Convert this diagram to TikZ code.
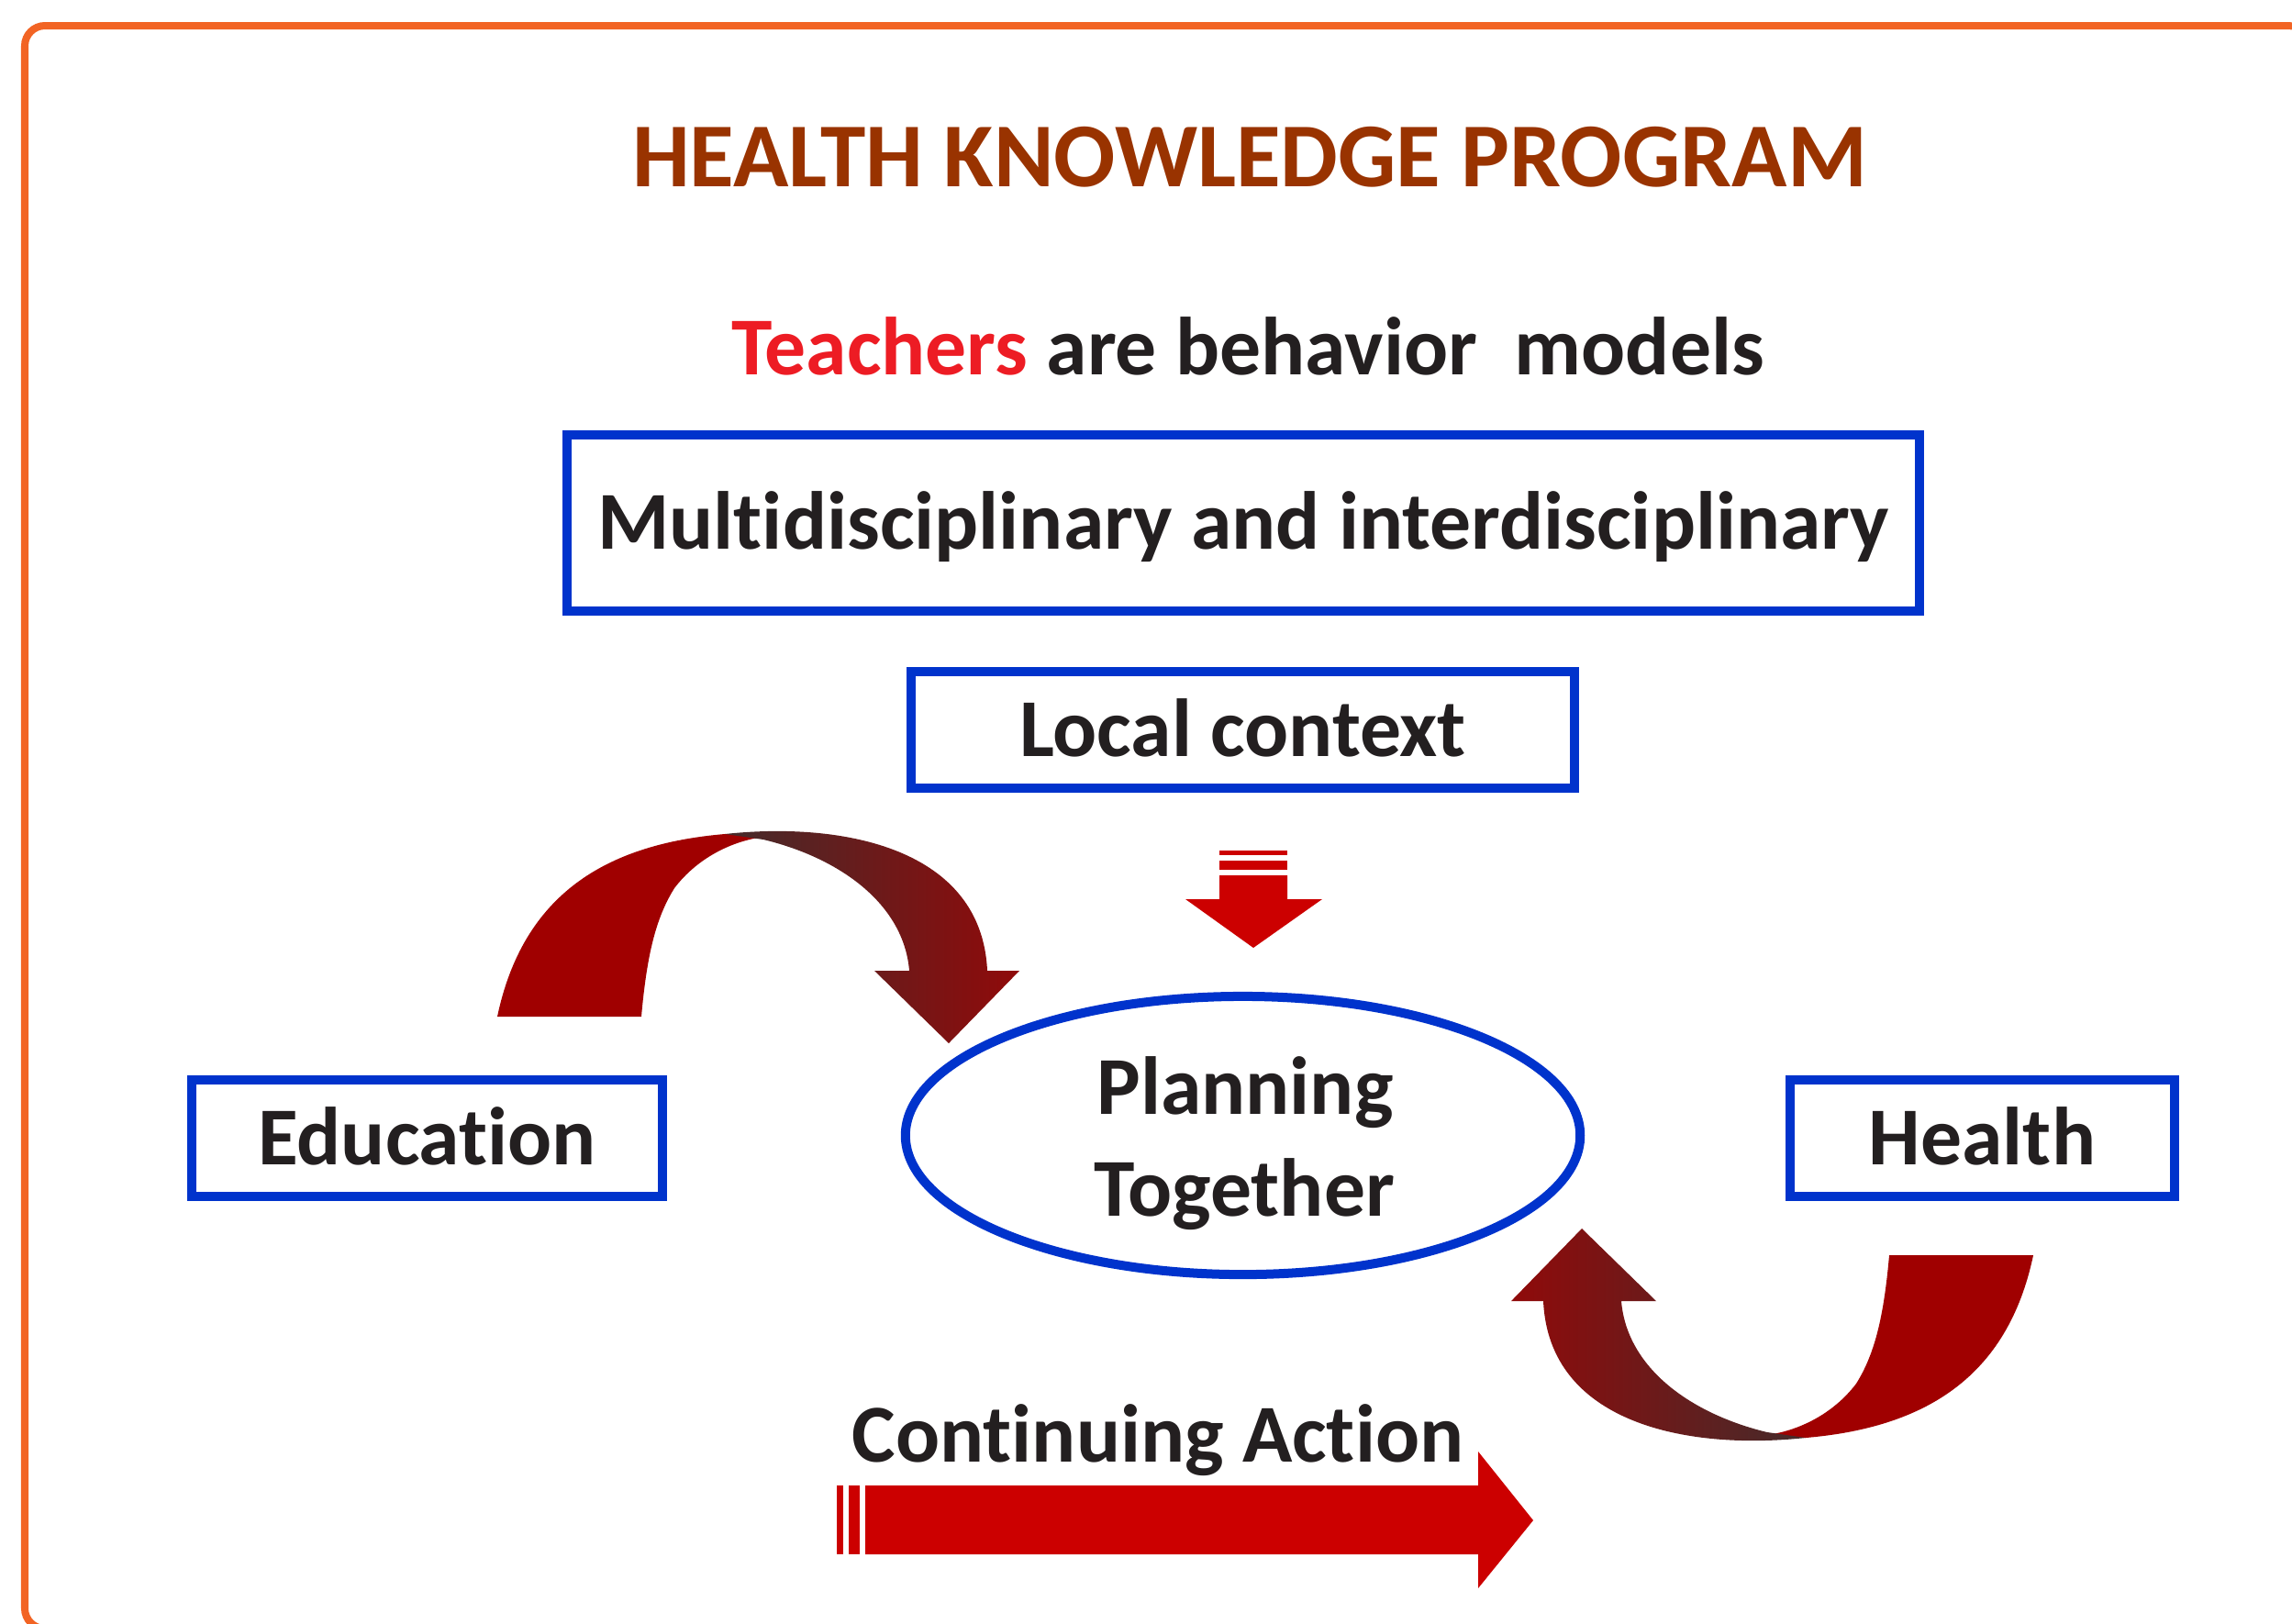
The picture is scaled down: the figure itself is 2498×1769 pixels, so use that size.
\documentclass[tikz,border=0pt]{standalone}
\usepackage{fontspec}
\setmainfont{Carlito}[Ligatures=NoCommon]
\usetikzlibrary{shapes.geometric}

\definecolor{frameorange}{HTML}{F26424}
\definecolor{titlebrown}{HTML}{993300}
\definecolor{teachred}{HTML}{ED1C24}
\definecolor{inkdark}{HTML}{231F20}
\definecolor{boxblue}{HTML}{0033CC}
\definecolor{arrowred}{HTML}{CC0000}
\definecolor{ribbonred}{HTML}{A00000}
\definecolor{ribbondark}{HTML}{452B2B}
\definecolor{ribbonend}{HTML}{900A0A}

% Twisted ribbon arrow: a solid band rising from its base, then a shaded band
% curling over and ending in an arrow head. #1/#2 = left/right shading colours.
\newcommand\ribbonarrow[2]{%
  \fill[ribbonred]
    (542,1108) .. controls (570,975) and (660,920) .. (790,909)
    -- (842,911)
    .. controls (800,914) and (760,935) .. (735,968)
    .. controls (715,1000) and (705,1040) .. (699,1108)
    -- cycle;
  \shade[left color=#1, right color=#2]
    (790,909) .. controls (920,895) and (1070,925) .. (1076,1058)
    -- (1111,1058) -- (1034,1137) -- (953,1058) -- (991,1058)
    .. controls (985,985) and (915,935) .. (832,915)
    -- cycle;
}

\begin{document}
\begin{tikzpicture}[x=0.01cm, y=-0.01cm,
  txt/.style={font=\bfseries\fontsize{25.5pt}{30pt}\selectfont, text=inkdark, inner sep=0pt},
  bluebox/.style={draw=boxblue, line width=0.1cm, rectangle, inner sep=0pt,
    text height=0.57cm, text depth=0pt, font=\bfseries\fontsize{25.5pt}{30pt}\selectfont,
    text=inkdark},
]
\useasboundingbox (0,0) rectangle (2498,1769);
\clip (0,0) rectangle (2498,1769);

% outer frame
\draw[frameorange, line width=0.08cm, rounded corners=0.22cm] (27,28) rectangle (2516,1775);

% headings
\node[txt, anchor=base, text=titlebrown, font=\bfseries\fontsize{28.3pt}{33pt}\selectfont]
  (title) at (1362,203) {HEALTH KNOWLEDGE PROGRAM};
\node[txt, anchor=base] (models) at (1360,408)
  {\textcolor{teachred}{Teachers} are behavior\ \ models};

% boxes
\node[bluebox, minimum width=14.74cm, minimum height=1.92cm] (multi) at (1355,570)
  {Multidisciplinary and interdisciplinary};
\node[bluebox, minimum width=7.23cm, minimum height=1.27cm] (local) at (1354.5,795.5)
  {Local context};
\node[bluebox, minimum width=5.13cm, minimum height=1.27cm] (edu) at (465.5,1240.5)
  {Education};
\node[bluebox, minimum width=4.19cm, minimum height=1.27cm] (health) at (2160.5,1240.5)
  {Health};

% central ellipse
\node[ellipse, draw=boxblue, line width=0.1cm, minimum width=7.35cm, minimum height=3.03cm,
  inner sep=0pt] (plan) at (1354.5,1237.5) {};
\node[txt, anchor=base] (plantop) at (1357,1214) {Planning};
\node[txt, anchor=base] (planbot) at (1356.5,1325) {Together};

% downward striped arrow
\fill[arrowred] (1329,927) rectangle (1403,932);
\fill[arrowred] (1329,938) rectangle (1403,948);
\fill[arrowred] (1329,954) -- (1403,954) -- (1403,980) -- (1441,980) -- (1366,1033)
  -- (1292,980) -- (1329,980) -- cycle;

% twisted ribbon arrows
\ribbonarrow{ribbondark}{ribbonend}
\begin{scope}[shift={(2758,2476)}, xscale=-1, yscale=-1]
  \ribbonarrow{ribbonend}{ribbondark}
\end{scope}

% continuing action arrow
\node[txt, anchor=base] (action) at (1262,1593) {Continuing Action};
\fill[arrowred] (912,1619) rectangle (919,1694);
\fill[arrowred] (925,1619) rectangle (936.5,1694);
\fill[arrowred] (943,1619) -- (1611,1619) -- (1611,1582) -- (1671,1657) -- (1611,1731)
  -- (1611,1694) -- (943,1694) -- cycle;
\end{tikzpicture}
\end{document}
